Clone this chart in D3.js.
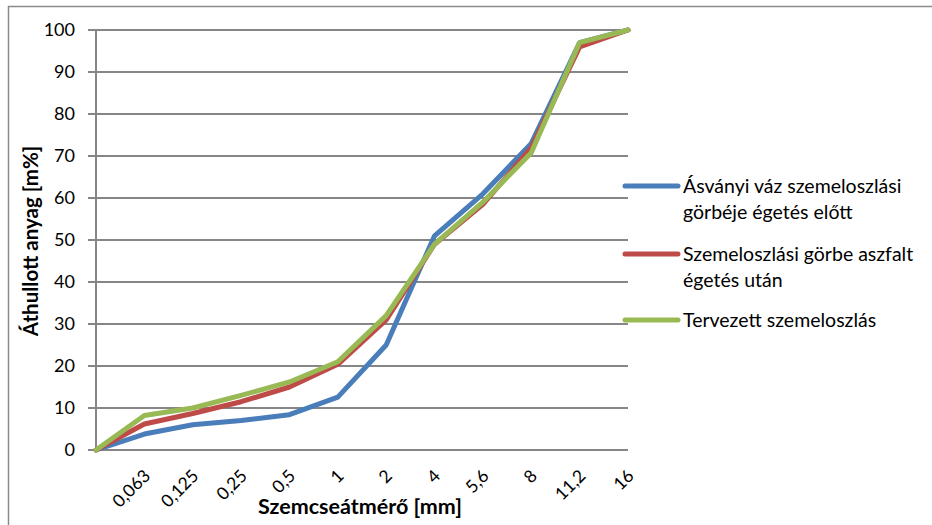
<!DOCTYPE html>
<html><head><meta charset="utf-8">
<script src="https://cdn.jsdelivr.net/npm/d3@7"></script>
<style>body{margin:0;background:#fff}svg{display:block}text{font-family:Lato,"Open Sans",sans-serif;fill:#000}</style>
</head><body><svg id="c" width="932" height="525"></svg>
<script>
const categories = ["", "0,063", "0,125", "0,25", "0,5", "1", "2", "4", "5,6", "8", "11,2", "16"];
const seriesNames = ["Ásványi váz szemeloszlási|görbéje égetés előtt", "Szemeloszlási görbe aszfalt|égetés után", "Tervezett szemeloszlás"];
const blueValues  = [0, 3.8, 6, 7, 8.4, 12.6, 25, 51, 61, 73, 97, 100];
const redValues   = [0, 6.2, 8.7, 11.5, 15, 20.4, 31, 49, 58.5, 72, 96, 100];
const greenValues = [0, 8.2, 10, 13, 16.2, 21, 32, 49, 59, 70.8, 97, 100];
const yTicks = [0, 10, 20, 30, 40, 50, 60, 70, 80, 90, 100];
const colors = ["#4A7EBB", "#BE4B48", "#98B954"];

const svg = d3.select("#c");
// chart border (top and left visible)
svg.append("line").attr("x1",8).attr("x2",932).attr("y1",6.5).attr("y2",6.5).attr("stroke","#8a8a8a").attr("stroke-width",1.5);
svg.append("line").attr("x1",8.5).attr("x2",8.5).attr("y1",6).attr("y2",525).attr("stroke","#8a8a8a").attr("stroke-width",1.5);

const x = d3.scalePoint().domain(d3.range(categories.length)).range([96, 628]);
const y = d3.scaleLinear().domain([0, 100]).range([450, 30]);

// gridlines
svg.append("g").selectAll("line").data(yTicks).join("line")
  .attr("x1", 88).attr("x2", 628).attr("y1", d => y(d)).attr("y2", d => y(d))
  .attr("stroke", "#868686").attr("stroke-width", 2);
// y axis line
svg.append("line").attr("x1",96).attr("x2",96).attr("y1",y(100)).attr("y2",y(0)).attr("stroke","#868686").attr("stroke-width",2);
// y labels
svg.append("g").selectAll("text").data(yTicks).join("text")
  .attr("x", 75).attr("y", d => y(d)).attr("dy", "0.35em").attr("text-anchor", "end")
  .style("font-size", "18px").text(d => d);
// x labels
svg.append("g").selectAll("text").data(categories).join("text")
  .attr("transform", (d, i) => `translate(${x(i)+7},${477}) rotate(-45)`)
  .attr("text-anchor", "end").style("font-size", "17.5px").text(d => d);

// lines
const line = d3.line().x((d, i) => x(i)).y(d => y(d));
[blueValues, redValues, greenValues].forEach((vals, k) => {
  svg.append("path").datum(vals).attr("d", line).attr("fill", "none")
    .attr("stroke", colors[k]).attr("stroke-width", 5).attr("stroke-linejoin", "round").attr("stroke-linecap", "round");
});

// axis titles
svg.append("text").attr("transform", "translate(38,241) rotate(-90)").attr("text-anchor", "middle")
  .style("font-size", "20.5px").style("font-weight", "bold").text("Áthullott anyag [m%]");
svg.append("text").attr("x", 360).attr("y", 514).attr("text-anchor", "middle")
  .style("font-size", "21.5px").style("font-weight", "bold").text("Szemcseátmérő [mm]");

// legend
const legY = [186, 254, 320];
seriesNames.forEach((name, k) => {
  const g = svg.append("g");
  g.append("line").attr("x1", 625).attr("x2", 678).attr("y1", legY[k]).attr("y2", legY[k])
    .attr("stroke", colors[k]).attr("stroke-width", 5).attr("stroke-linecap", "round");
  name.split("|").forEach((t, j) => {
    g.append("text").attr("x", 683).attr("y", legY[k] + j * 26).attr("dy", "0.35em")
      .style("font-size", "19.5px").text(t);
  });
});
</script></body></html>
